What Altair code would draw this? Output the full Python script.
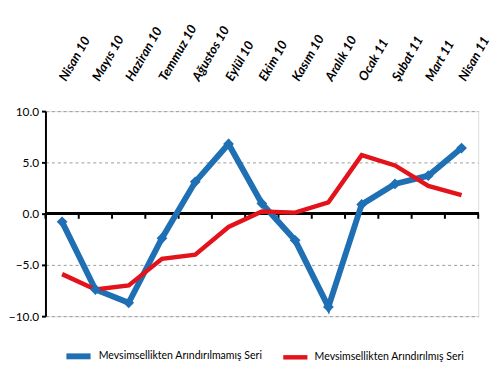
import altair as alt
import pandas as pd

months = ["Nisan 10", "Mayıs 10", "Haziran 10", "Temmuz 10", "Ağustos 10", "Eylül 10",
          "Ekim 10", "Kasım 10", "Aralık 10", "Ocak 11", "Şubat 11", "Mart 11", "Nisan 11"]
unadjusted = [-0.8, -7.4, -8.7, -2.4, 3.1, 6.8, 1.0, -2.6, -9.1, 0.9, 2.9, 3.7, 6.4]
adjusted = [-5.9, -7.4, -7.0, -4.4, -4.0, -1.3, 0.2, 0.1, 1.1, 5.7, 4.7, 2.7, 1.8]
series = ["Mevsimsellikten Arındırılmamış Seri", "Mevsimsellikten Arındırılmış Seri"]
colors = ["#1F6FB4", "#E3131B"]
y_ticks = [-10, -5, 0, 5, 10]

rows = []
for i, (m, v) in enumerate(zip(months, unadjusted)):
    rows.append({"i": i, "Ay": m, "Deger": v, "Seri": series[0]})
for i, (m, v) in enumerate(zip(months, adjusted)):
    rows.append({"i": i, "Ay": m, "Deger": v, "Seri": series[1]})
df = pd.DataFrame(rows)

# category boundaries for the tick marks on the zero line
bounds = pd.DataFrame({"b": [i - 0.5 for i in range(len(months) + 1)]})

FONT = "Lato"
W, H = 439, 208

xscale = alt.Scale(domain=[-0.5, len(months) - 0.5], nice=False, zero=False)
yscale = alt.Scale(domain=[-10, 10], nice=False)

label_expr = "[" + ",".join('"%s"' % m for m in months) + "][datum.value]"

yaxis = alt.Axis(values=y_ticks, format=".1f", grid=True, gridDash=[3, 3], gridColor="#9a9a9a",
                 gridWidth=1, domainColor="black", domainWidth=2, tickColor="black", tickWidth=2,
                 tickSize=4, labelPadding=3, labelFont=FONT, labelFontSize=12, labelColor="black",
                 title=None)

top_axis = alt.Axis(orient="top", values=list(range(len(months))), labelExpr=label_expr,
                    labelAngle=-60, labelAlign="left", labelBaseline="middle",
                    labelFont=FONT, labelFontSize=13, labelFontWeight="bold", labelFontStyle="italic",
                    labelColor="black", labelPadding=32, ticks=False, domain=False, grid=False,
                    title=None, labelOverlap=False)

color = alt.Color("Seri:N", scale=alt.Scale(domain=series, range=colors),
                  legend=alt.Legend(title=None, orient="none", direction="horizontal",
                                    legendX=18, legendY=233, padding=0,
                                    symbolType="stroke", symbolStrokeWidth=5, symbolSize=600,
                                    labelFont=FONT, labelFontSize=10.7, labelColor="black",
                                    labelOffset=5, columnPadding=12, labelLimit=300))

X = alt.X("i:Q", scale=xscale, axis=top_axis)
Y = alt.Y("Deger:Q", scale=yscale, axis=yaxis)

lines = alt.Chart(df).mark_line().encode(
    x=X, y=Y,
    color=color,
    strokeWidth=alt.StrokeWidth("Seri:N", scale=alt.Scale(domain=series, range=[6, 4.5]), legend=None),
    order="i:Q",
)

zero_line = alt.Chart(df).mark_rule(color="black", strokeWidth=2.5).encode(
    y=alt.datum(0, axis=yaxis, scale=yscale)
)

zero_ticks = alt.Chart(bounds).mark_rule(color="black", strokeWidth=2).encode(
    x=alt.X("b:Q", scale=xscale, axis=top_axis),
    y=alt.datum(0, axis=yaxis, scale=yscale),
    y2=alt.datum(-0.5),
)

points = alt.Chart(df).transform_filter(alt.datum.Seri == series[0]).mark_point(
    shape="diamond", filled=True, size=120, opacity=1, color=colors[0]
).encode(x=X, y=Y)

chart = alt.layer(zero_ticks, zero_line, lines, points).properties(
    width=W, height=H, padding={"left": 0, "top": 12, "right": 0, "bottom": 0}
).configure_view(stroke=None).configure_axisX(labelOverlap=False).configure(background="white")

chart.save("out.html", embed_options={"renderer": "svg", "actions": False})
